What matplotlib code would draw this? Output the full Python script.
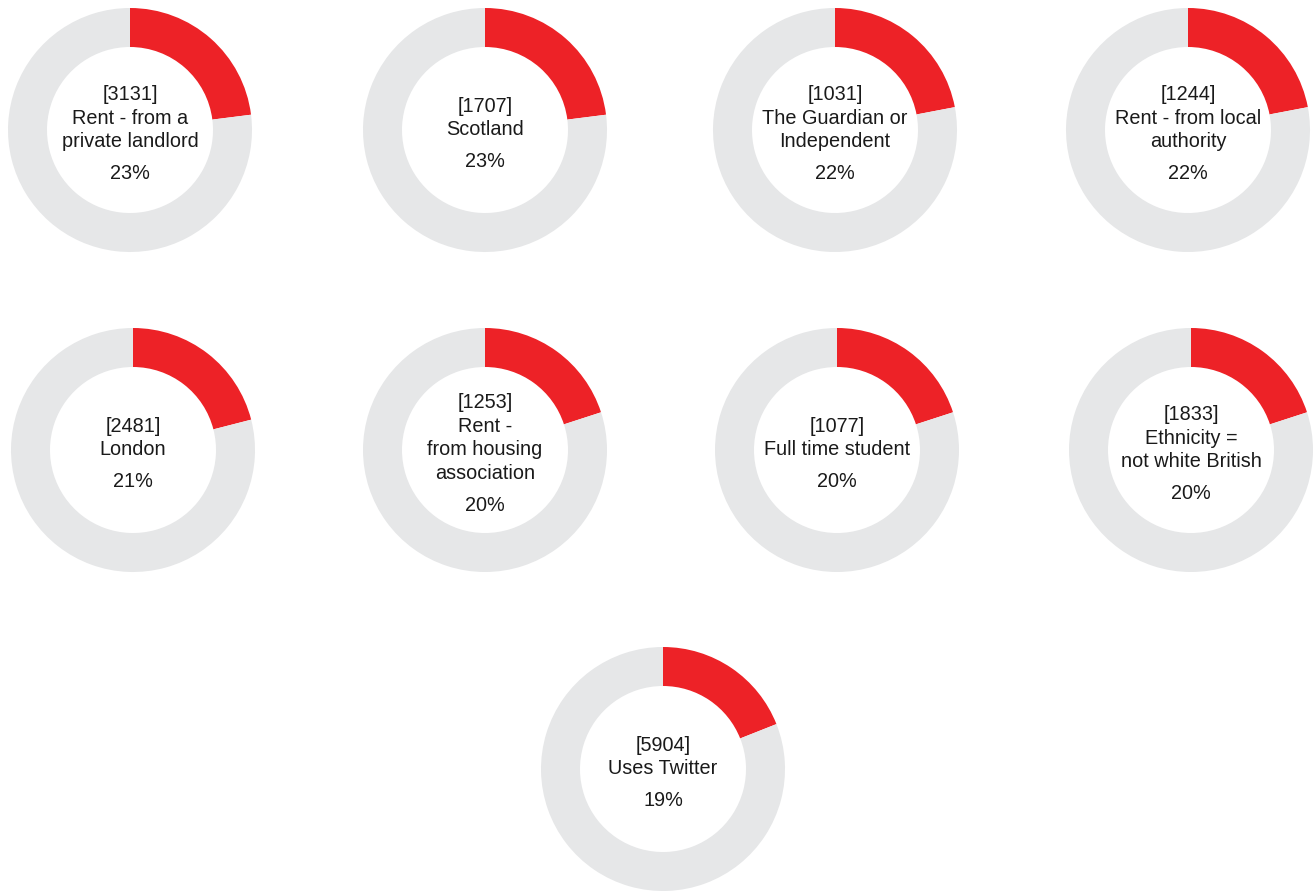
import matplotlib
matplotlib.use("Agg")
import matplotlib.pyplot as plt

counts = ["3131", "1707", "1031", "1244", "2481", "1253", "1077", "1833", "5904"]
labels = [
    ["Rent - from a", "private landlord"],
    ["Scotland"],
    ["The Guardian or", "Independent"],
    ["Rent - from local", "authority"],
    ["London"],
    ["Rent -", "from housing", "association"],
    ["Full time student"],
    ["Ethnicity =", "not white British"],
    ["Uses Twitter"],
]
percents = [23, 23, 22, 22, 21, 20, 20, 20, 19]

centers = [(130, 130), (485, 130), (835, 130), (1188, 130),
           (133, 450), (485, 450), (837, 450), (1191, 450),
           (663, 769)]

RED = "#ED2227"
GREY = "#E6E7E8"
TXT = "#1a1a1a"

W, H = 1315, 891
fig = plt.figure(figsize=(W / 100, H / 100), dpi=100)
ax = fig.add_axes([0, 0, 1, 1])

R = 122
ring = 39
for (cx, cy), cnt, lab, p in zip(centers, counts, labels, percents):
    # y axis is inverted, so start at -90 and go counterclockwise in data
    # coordinates to appear clockwise from 12 o'clock on screen
    ax.pie([p, 100 - p], colors=[RED, GREY], startangle=-90, counterclock=True,
           radius=R, center=(cx, cy),
           wedgeprops=dict(width=ring, linewidth=0))
    lines = ["[" + cnt + "]"] + lab
    n = len(lines)
    ls = 23.5
    gap = 32
    total = (n - 1) * ls + gap
    first = cy + 4 - total / 2
    for i, t in enumerate(lines):
        ax.text(cx, first + i * ls, t, ha="center", va="center", fontsize=14.3,
                family="Liberation Sans", color=TXT)
    ax.text(cx, first + (n - 1) * ls + gap, f"{p}%", ha="center", va="center",
            fontsize=14.3, family="Liberation Sans", color=TXT)

ax.set_xlim(0, W)
ax.set_ylim(H, 0)
ax.set_aspect("equal")
ax.axis("off")
fig.savefig("out.png", dpi=100)
